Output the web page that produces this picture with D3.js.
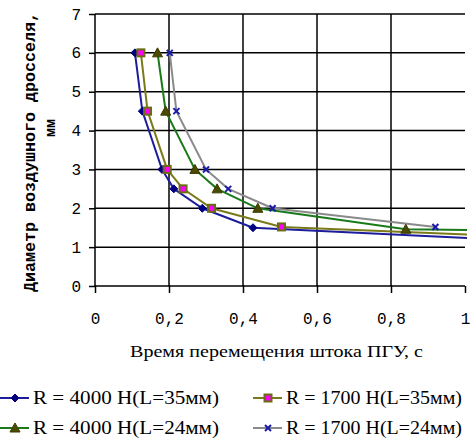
<!DOCTYPE html>
<html>
<head>
<meta charset="utf-8">
<script src="https://cdn.jsdelivr.net/npm/d3@7"></script>
<style>
  body { margin: 0; background: #fff; }
  svg { display: block; }
</style>
</head>
<body>
<div id="chart"></div>
<script>
// Series data (x = time, s; y = diameter, mm)
var s1x = [0.108, 0.128, 0.181, 0.213, 0.29, 0.427, 1.2];
var s1y = [6, 4.5, 3, 2.5, 2, 1.5, 1.15];
var s2x = [0.124, 0.142, 0.195, 0.238, 0.315, 0.504, 1.2];
var s2y = [6, 4.5, 3, 2.5, 2, 1.52, 1.25];
var s3x = [0.169, 0.191, 0.27, 0.33, 0.44, 0.84, 1.2];
var s3y = [6, 4.5, 3, 2.5, 2, 1.46, 1.42];
var s4x = [0.202, 0.22, 0.3, 0.36, 0.48, 0.92];
var s4y = [6, 4.5, 3, 2.5, 2, 1.52];

var xTicks = [0, 0.2, 0.4, 0.6, 0.8, 1];
var yTicks = [0, 1, 2, 3, 4, 5, 6, 7];
var seriesNames = [
  "R = 4000 H(L=35мм)",
  "R = 1700 H(L=35мм)",
  "R = 4000 H(L=24мм)",
  "R = 1700 H(L=24мм)"
];

var w = 473;
var h = 441;

var svg = d3
  .select("#chart")
  .append("svg")
  .attr("width", w)
  .attr("height", h);

// Scales
var xScale = d3.scaleLinear().domain([0, 1]).range([95, 465]);
var yScale = d3.scaleLinear().domain([0, 7]).range([286, 14]);

// Gridlines
svg
  .append("g")
  .selectAll("line")
  .data(yTicks.slice(1))
  .enter()
  .append("line")
  .attr("x1", xScale(0))
  .attr("x2", xScale(1))
  .attr("y1", (d) => yScale(d))
  .attr("y2", (d) => yScale(d))
  .attr("stroke", "#000")
  .attr("stroke-width", 1.5);

svg
  .append("g")
  .selectAll("line")
  .data(xTicks.slice(1, 5))
  .enter()
  .append("line")
  .attr("x1", (d) => xScale(d))
  .attr("x2", (d) => xScale(d))
  .attr("y1", yScale(7))
  .attr("y2", yScale(0))
  .attr("stroke", "#000")
  .attr("stroke-width", 1.5);

// Axes
var xAxis = d3
  .axisBottom(xScale)
  .tickValues(xTicks)
  .tickSize(7)
  .tickFormat((d) => String(d).replace(".", ","));
var yAxis = d3
  .axisLeft(yScale)
  .tickValues(yTicks)
  .tickSize(6)
  .tickPadding(8)
  .tickFormat(d3.format("d"));

var gx = svg
  .append("g")
  .attr("transform", "translate(0," + yScale(0) + ")")
  .call(xAxis);
var gy = svg
  .append("g")
  .attr("transform", "translate(" + xScale(0) + ",0)")
  .call(yAxis);

[gx, gy].forEach(function (g) {
  g.select(".domain").attr("stroke", "#000").attr("stroke-width", 1.5);
  g.selectAll(".tick line").attr("stroke", "#000").attr("stroke-width", 1.5);
  g.selectAll("text")
    .attr("fill", "#000")
    .style("font-family", "'Liberation Mono', 'DejaVu Sans Mono', monospace")
    .style("font-size", "16px");
});
gy.select(".domain").attr("d", "M0," + yScale(0) + "V" + yScale(7));
gx.select(".domain").attr("d", "M0,0H" + (xScale(1) - xScale(0)));
gx.select(".domain").attr("transform", "translate(" + xScale(0) + ",0)");
gx.selectAll(".tick text").attr("dy", "1.75em");
gx.selectAll(".tick line").attr("y1", (d) => (d === 1 ? 0 : -1));

// Axis titles
svg
  .append("text")
  .attr("transform", "translate(35,152) rotate(-90)")
  .attr("text-anchor", "middle")
  .style("font-family", "'Liberation Mono', 'DejaVu Sans Mono', monospace")
  .style("font-size", "16px")
  .style("font-weight", "bold")
  .attr("textLength", 280)
  .attr("lengthAdjust", "spacingAndGlyphs")
  .text("Диаметр воздушного дросселя,");
svg
  .append("text")
  .attr("transform", "translate(55,128) rotate(-90)")
  .attr("text-anchor", "middle")
  .style("font-family", "'Liberation Mono', 'DejaVu Sans Mono', monospace")
  .style("font-size", "15px")
  .style("font-weight", "bold")
  .text("мм");

svg
  .append("text")
  .attr("x", 130)
  .attr("y", 357)
  .style("font-family", "'Liberation Serif', serif")
  .style("font-size", "17px")
  .attr("textLength", 293)
  .attr("lengthAdjust", "spacingAndGlyphs")
  .text("Время перемещения штока ПГУ, с");

// Series
var series = [
  { xs: s1x, ys: s1y, line: "#1c1c9c", marker: "diamond", mfill: "#000080", mstroke: "#000080" },
  { xs: s2x, ys: s2y, line: "#7a7a1a", marker: "square", mfill: "#ff00ff", mstroke: "#6b6b10" },
  { xs: s3x, ys: s3y, line: "#1a7a1a", marker: "triangle", mfill: "#4a4a00", mstroke: "#3a3a00" },
  { xs: s4x, ys: s4y, line: "#8a8a8a", marker: "x", mfill: "none", mstroke: "#1a1aaa" }
];

svg
  .append("clipPath")
  .attr("id", "plotclip")
  .append("rect")
  .attr("x", xScale(0))
  .attr("y", yScale(7) - 6)
  .attr("width", xScale(1) - xScale(0) + 2)
  .attr("height", yScale(0) - yScale(7) + 6);

var lineGen = d3
  .line()
  .x((d) => xScale(d[0]))
  .y((d) => yScale(d[1]));

function drawMarker(g, type, cx, cy, s) {
  if (type === "diamond") {
    g.append("path")
      .attr("d", "M" + cx + "," + (cy - 4) + "L" + (cx + 4) + "," + cy + "L" + cx + "," + (cy + 4) + "L" + (cx - 4) + "," + cy + "Z")
      .attr("fill", s.mfill)
      .attr("stroke", s.mstroke);
  } else if (type === "square") {
    g.append("rect")
      .attr("x", cx - 3.5)
      .attr("y", cy - 3.5)
      .attr("width", 7)
      .attr("height", 7)
      .attr("fill", s.mfill)
      .attr("stroke", s.mstroke)
      .attr("stroke-width", 2);
  } else if (type === "triangle") {
    g.append("path")
      .attr("d", "M" + cx + "," + (cy - 5) + "L" + (cx + 5) + "," + (cy + 4) + "L" + (cx - 5) + "," + (cy + 4) + "Z")
      .attr("fill", s.mfill)
      .attr("stroke", s.mstroke);
  } else {
    g.append("path")
      .attr("d", "M" + (cx - 3) + "," + (cy - 3) + "L" + (cx + 3) + "," + (cy + 3) + "M" + (cx + 3) + "," + (cy - 3) + "L" + (cx - 3) + "," + (cy + 3))
      .attr("fill", "none")
      .attr("stroke", s.mstroke)
      .attr("stroke-width", 2);
  }
}

var plot = svg.append("g").attr("clip-path", "url(#plotclip)");

series.forEach(function (s) {
  var pts = s.xs.map((x, i) => [x, s.ys[i]]);
  plot
    .append("path")
    .datum(pts)
    .attr("d", lineGen)
    .attr("fill", "none")
    .attr("stroke", s.line)
    .attr("stroke-width", 2);
});

series.forEach(function (s) {
  var g = plot.append("g");
  s.xs.forEach(function (x, i) {
    if (x <= 1) drawMarker(g, s.marker, xScale(x), yScale(s.ys[i]), s);
  });
});

// Legend
var legendPos = [
  [0, 398],
  [253, 398],
  [0, 428],
  [253, 428]
];

series.forEach(function (s, i) {
  var lx = legendPos[i][0];
  var ly = legendPos[i][1];
  var g = svg.append("g");
  g.append("line")
    .attr("x1", lx)
    .attr("x2", lx + 29)
    .attr("y1", ly)
    .attr("y2", ly)
    .attr("stroke", s.line)
    .attr("stroke-width", 2);
  drawMarker(g, s.marker, lx + 15, ly, s);
  g.append("text")
    .attr("x", lx + 33)
    .attr("y", ly + 6)
    .style("font-family", "'Liberation Serif', serif")
    .style("font-size", "18px")
    .attr("textLength", i % 2 === 0 ? 186 : 176)
    .attr("lengthAdjust", "spacingAndGlyphs")
    .text(seriesNames[i]);
});
</script>
</body>
</html>
